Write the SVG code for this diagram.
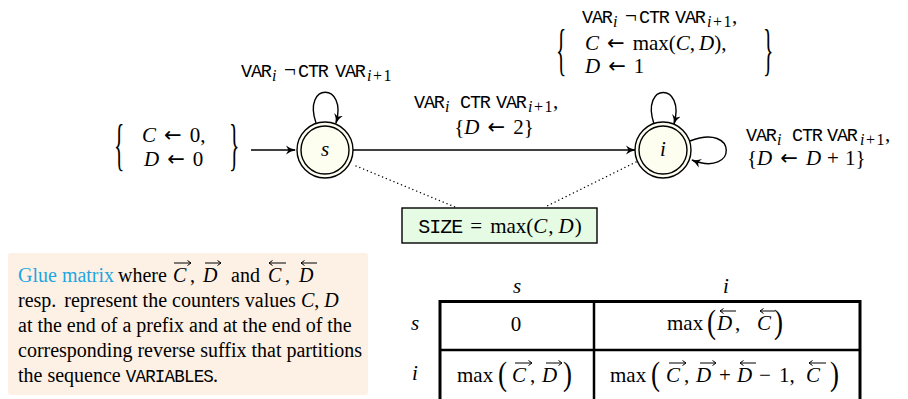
<svg xmlns="http://www.w3.org/2000/svg" width="908" height="399" viewBox="0 0 908 399">
<style>
.m{font-family:"Liberation Serif",serif;font-size:21px;fill:#000}
.it{font-style:italic}
.tt{font-family:"Liberation Mono",monospace;font-size:18.5px;letter-spacing:-1.2px}
.sb{font-family:"Liberation Serif",serif;font-size:16px}
.ar{font-family:"DejaVu Sans",sans-serif;font-size:21px}
.br{font-family:"Liberation Serif",serif;font-size:24px}
.bp{font-family:"Liberation Serif",serif;font-size:27px}
.edge{fill:none;stroke:#000;stroke-width:1.4}
.dot{fill:none;stroke:#000;stroke-width:1.4;stroke-dasharray:0.1 4;stroke-linecap:round}
.vec{fill:none;stroke:#000;stroke-width:1}
.txt{font-family:"Liberation Serif",serif;font-size:20px;fill:#000}
.link{fill:#1ea6e1}
.state{fill:#fdfdf0;stroke:#000;stroke-width:1.4}
.inner{fill:none;stroke:#000;stroke-width:1.4}
</style>
<defs>
<marker id="ah" viewBox="0 0 10 10" refX="9" refY="5" markerWidth="10" markerHeight="10" markerUnits="userSpaceOnUse" orient="auto">
<path d="M0,0.5 Q4,4 10,5 Q4,6 0,9.5 L2.5,5 Z" fill="#000"/>
</marker>
</defs>

<g id="init">
<text class="br" transform="translate(114,164) scale(0.9,2.4)">{</text>
<text class="m" x="142" y="142"><tspan class="it">C</tspan><tspan class="ar" dx="8">←</tspan><tspan dx="8">0,</tspan></text>
<text class="m" x="144" y="166"><tspan class="it">D</tspan><tspan class="ar" dx="8">←</tspan><tspan dx="8">0</tspan></text>
<text class="br" transform="translate(229,164) scale(0.9,2.4)">}</text>
</g>

<g id="connectors">
<path class="edge" d="M251,150 L295,150" marker-end="url(#ah)"/>
<path class="edge" d="M316,123 C302,82 348,82 336,123" marker-end="url(#ah)"/>
<path class="edge" d="M353,150 L635,150" marker-end="url(#ah)"/>
<path class="edge" d="M654,124 C640,82 686,82 674,124" marker-end="url(#ah)"/>
<path class="edge" d="M690,141 C738,122 738,178 692,160" marker-end="url(#ah)"/>
<path class="dot" d="M356,166 L455,207"/>
<path class="dot" d="M636,162 L545,207"/>
</g>

<g id="lbl-s-loop">
<text class="tt" x="241" y="77">VAR</text>
<text class="sb it" x="272" y="81">i</text>
<text class="m" x="284" y="77">¬</text>
<text class="tt" x="298" y="77">CTR</text>
<text class="tt" x="335" y="77">VAR</text>
<text class="sb" x="367" y="81"><tspan class="it">i</tspan><tspan dx="1.5">+</tspan><tspan dx="1.5">1</tspan></text>
</g>

<g id="lbl-si">
<text class="tt" x="414" y="108">VAR</text>
<text class="sb it" x="445" y="112">i</text>
<text class="tt" x="460" y="108">CTR</text>
<text class="tt" x="496" y="108">VAR</text>
<text class="sb" x="528" y="112"><tspan class="it">i</tspan><tspan dx="1.5">+</tspan><tspan dx="1.5">1</tspan></text>
<text class="m" x="553" y="108">,</text>
<text class="m" x="494" y="134" text-anchor="middle">{<tspan class="it">D</tspan><tspan class="ar" dx="8">←</tspan><tspan dx="8">2}</tspan></text>
</g>

<g id="lbl-i-top">
<text class="tt" x="582" y="23">VAR</text>
<text class="sb it" x="613" y="27">i</text>
<text class="m" x="625" y="23">¬</text>
<text class="tt" x="639" y="23">CTR</text>
<text class="tt" x="675" y="23">VAR</text>
<text class="sb" x="707" y="27"><tspan class="it">i</tspan><tspan dx="1.5">+</tspan><tspan dx="1.5">1</tspan></text>
<text class="m" x="732" y="23">,</text>
<text class="br" transform="translate(556,69) scale(0.9,2.4)">{</text>
<text class="m" x="585" y="50"><tspan class="it">C</tspan><tspan class="ar" dx="8">←</tspan><tspan dx="8">max(</tspan><tspan class="it">C</tspan>,<tspan class="it" dx="4">D</tspan>),</text>
<text class="m" x="585" y="73"><tspan class="it">D</tspan><tspan class="ar" dx="8">←</tspan><tspan dx="8">1</tspan></text>
<text class="br" transform="translate(763,69) scale(0.9,2.4)">}</text>
</g>

<g id="lbl-i-loop">
<text class="tt" x="746" y="141">VAR</text>
<text class="sb it" x="777" y="145">i</text>
<text class="tt" x="792" y="141">CTR</text>
<text class="tt" x="827" y="141">VAR</text>
<text class="sb" x="860" y="145"><tspan class="it">i</tspan><tspan dx="1.5">+</tspan><tspan dx="1.5">1</tspan></text>
<text class="m" x="885" y="141">,</text>
<text class="m" x="747" y="165">{<tspan class="it">D</tspan><tspan class="ar" dx="8">←</tspan><tspan class="it" dx="8">D</tspan><tspan dx="6">+</tspan><tspan dx="6">1}</tspan></text>
</g>

<g id="node-s">
<circle class="state" cx="325" cy="150" r="28"/>
<circle class="inner" cx="325" cy="150" r="24"/>
<text class="m it" x="325" y="156" text-anchor="middle">s</text>
</g>

<g id="node-i">
<circle class="state" cx="663" cy="150" r="28"/>
<circle class="inner" cx="663" cy="150" r="24"/>
<text class="m it" x="663" y="156" text-anchor="middle">i</text>
</g>

<g id="size">
<rect x="402" y="208" width="195" height="35" fill="#e6fbe3" stroke="#000" stroke-width="1.4"/>
<text class="m" x="500" y="233" text-anchor="middle"><tspan class="tt" style="font-size:20px;letter-spacing:-1px">SIZE</tspan><tspan dx="8">=</tspan><tspan dx="8">max(</tspan><tspan class="it">C</tspan><tspan dx="1">,</tspan><tspan class="it" dx="5">D</tspan><tspan dx="1">)</tspan></text>
</g>

<g id="glue">
<rect x="8" y="253" width="360" height="142" rx="3" fill="#fdf0e5"/>
<text class="txt link" x="18" y="282">Glue matrix</text>
<text class="txt" x="118" y="282">where</text>
<text class="txt it" x="173" y="282">C</text><text class="txt" x="190" y="282">,</text>
<text class="txt it" x="203" y="282">D</text>
<text class="txt" x="231" y="282">and</text>
<text class="txt it" x="268" y="282">C</text><text class="txt" x="285" y="282">,</text>
<text class="txt it" x="299" y="282">D</text>
<path class="vec" d="M174,263 H191 M187.5,260.5 L191,263 L187.5,265.5"/>
<path class="vec" d="M205,263 H221 M217.5,260.5 L221,263 L217.5,265.5"/>
<path class="vec" d="M269,263 H286 M272.5,260.5 L269,263 L272.5,265.5"/>
<path class="vec" d="M301,263 H317 M304.5,260.5 L301,263 L304.5,265.5"/>
<text class="txt" x="18" y="307">resp.<tspan dx="8">represent the counters values</tspan><tspan class="it" dx="5">C</tspan>,<tspan class="it" dx="5">D</tspan></text>
<text class="txt" x="18" y="332">at the end of a prefix and at the end of the</text>
<text class="txt" x="18" y="357">corresponding reverse suffix that partitions</text>
<text class="txt" x="18" y="382">the sequence <tspan class="tt" style="font-size:17.5px;letter-spacing:-0.8px">VARIABLES</tspan>.</text>
</g>

<g id="table">
<rect x="440" y="301.5" width="420" height="130" fill="none" stroke="#000" stroke-width="3"/>
<line x1="594" y1="301" x2="594" y2="399" stroke="#000" stroke-width="2.5"/>
<line x1="440" y1="350" x2="860" y2="350" stroke="#000" stroke-width="2.5"/>
<text class="m it" x="517" y="293" text-anchor="middle">s</text>
<text class="m it" x="726" y="293" text-anchor="middle">i</text>
<text class="m it" x="415" y="330" text-anchor="middle">s</text>
<text class="m it" x="415" y="380" text-anchor="middle">i</text>
<text class="m" x="516" y="331" text-anchor="middle">0</text>
<text class="m" x="667" y="330">max</text>
<text class="bp" transform="translate(707,333) scale(1,1.25)">(</text>
<text class="m it" x="717" y="330">D</text><text class="m" x="735" y="330">,</text>
<text class="m it" x="757" y="330">C</text>
<text class="bp" transform="translate(774,333) scale(1,1.25)">)</text>
<path class="vec" d="M720,311 H736 M723.5,308.5 L720,311 L723.5,313.5"/>
<path class="vec" d="M760,311 H775 M763.5,308.5 L760,311 L763.5,313.5"/>
<text class="m" x="457" y="382">max</text>
<text class="bp" transform="translate(498,385) scale(1,1.25)">(</text>
<text class="m it" x="512" y="382">C</text><text class="m" x="530" y="382">,</text>
<text class="m it" x="542" y="382">D</text>
<text class="bp" transform="translate(563,385) scale(1,1.25)">)</text>
<path class="vec" d="M515,363 H532 M528.5,360.5 L532,363 L528.5,365.5"/>
<path class="vec" d="M546,363 H562 M558.5,360.5 L562,363 L558.5,365.5"/>
<text class="m" x="610" y="382">max</text>
<text class="bp" transform="translate(651,385) scale(1,1.25)">(</text>
<text class="m it" x="666" y="382">C</text><text class="m" x="684" y="382">,</text>
<text class="m it" x="696" y="382">D</text>
<text class="m" x="719" y="382">+</text>
<text class="m it" x="737" y="382">D</text>
<text class="m" x="759" y="382">−</text>
<text class="m" x="779" y="382">1,</text>
<text class="m it" x="806" y="382">C</text>
<text class="bp" transform="translate(830,385) scale(1,1.25)">)</text>
<path class="vec" d="M669,363 H686 M682.5,360.5 L686,363 L682.5,365.5"/>
<path class="vec" d="M700,363 H716 M712.5,360.5 L716,363 L712.5,365.5"/>
<path class="vec" d="M740,363 H756 M743.5,360.5 L740,363 L743.5,365.5"/>
<path class="vec" d="M809,363 H826 M812.5,360.5 L809,363 L812.5,365.5"/>
</g>
</svg>
